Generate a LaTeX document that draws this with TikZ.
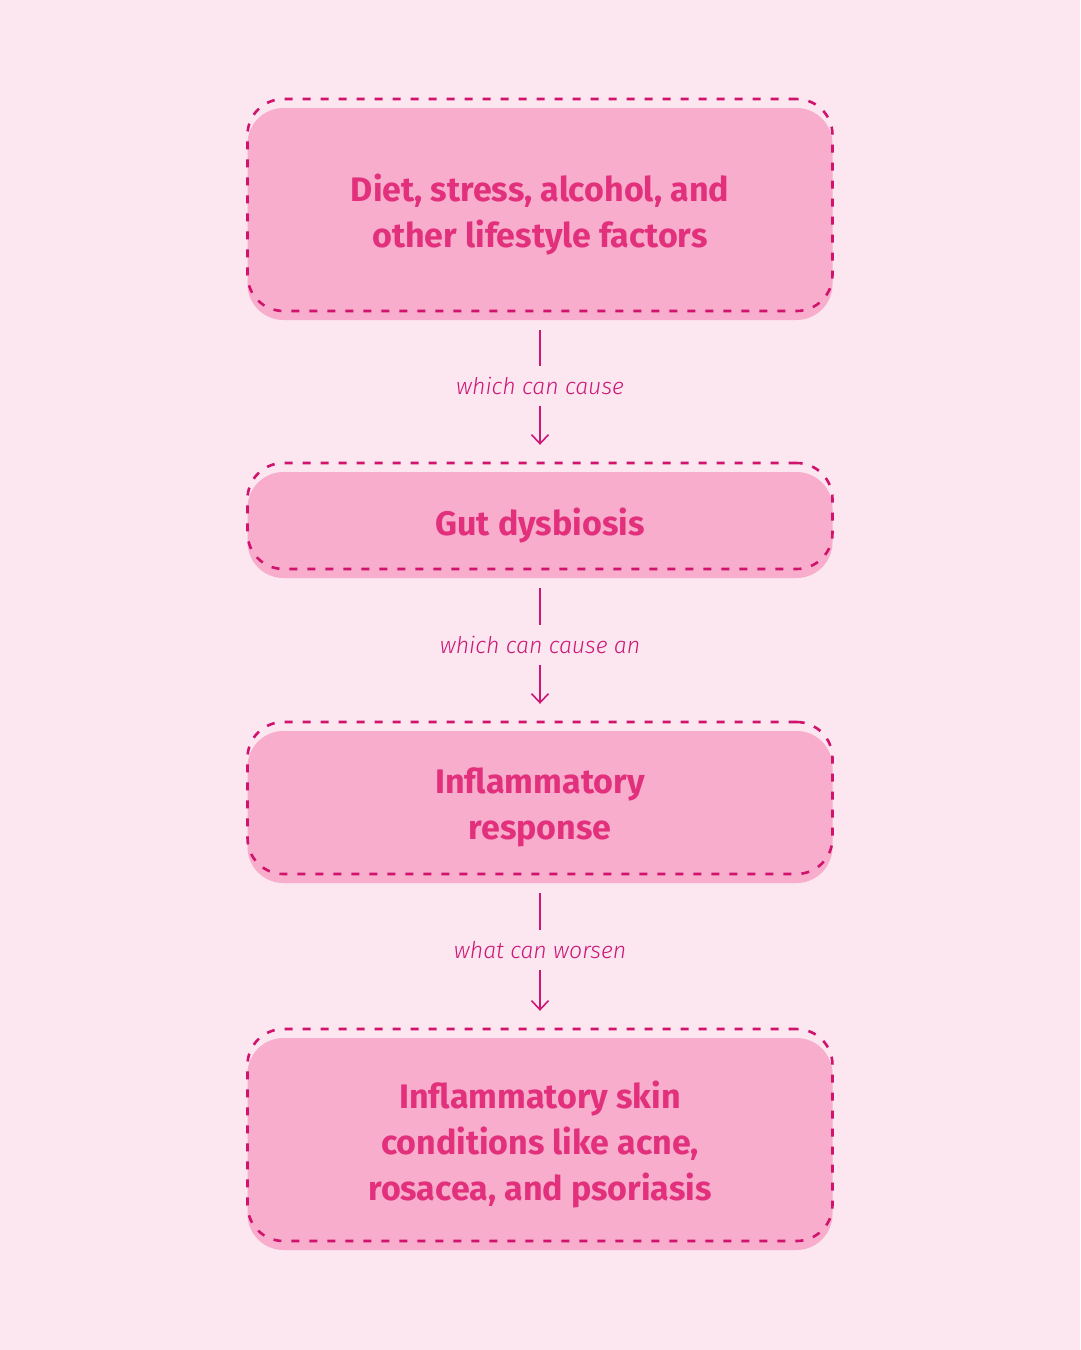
\documentclass[tikz,border=0pt]{standalone}
\usepackage{fontspec}
\setmainfont{Fira Sans}
\newfontfamily\labelfont{Fira Sans Light}
\usepackage{tikz}
\usetikzlibrary{arrows.meta, positioning}

\definecolor{bgpink}{HTML}{FCE6EF}
\definecolor{boxpink}{HTML}{F7ADCB}
\definecolor{dashpink}{HTML}{D1136E}
\definecolor{textpink}{HTML}{E2307C}
\definecolor{linkpink}{HTML}{CC1777}

\begin{document}
\begin{tikzpicture}[
  x=1pt, y=1pt,
  stagebox/.style={fill=boxpink, rounded corners=36pt, minimum width=585pt,
    inner sep=0pt, align=center, text=textpink,
    font=\fontsize{34}{46}\selectfont\bfseries,
    postaction={draw=dashpink, line width=2.6pt, dash pattern=on 8pt off 10pt,
      transform canvas={yshift=9pt}}},
  linklabel/.style={inner sep=0pt, minimum height=39pt, text=linkpink,
    font=\labelfont\fontsize{23}{26}\selectfont\itshape},
  link/.style={draw=linkpink, line width=1.6pt},
  linkarrow/.style={link, -{Straight Barb[length=9pt,width=17pt,line width=1.6pt]}}
]
\fill[bgpink] (0,0) rectangle (1080,-1350);
\useasboundingbox (0,0) rectangle (1080,-1350);
% stages (filled box; dashed outline sits 9pt higher)
\node[stagebox, minimum height=212pt] (diet) at (540,-214)
  {Diet, stress, alcohol, and\\other lifestyle factors};
\node[stagebox, minimum height=106pt] (gut) at (540,-525) {Gut dysbiosis};
\node[stagebox, minimum height=152pt] (inflam) at (540,-807)
  {Inflammatory\\response};
\node[stagebox, minimum height=212pt] (skin) at (540,-1144)
  {Inflammatory skin\\conditions like acne,\\rosacea, and psoriasis};
% connector labels
\node[linklabel] (cause) at (540,-386) {which can cause};
\node[linklabel] (causean) at (540,-645) {which can cause an};
\node[linklabel] (worsen) at (540,-950) {what can worsen};
% connectors
\foreach \from/\lbl/\to in {diet/cause/gut, gut/causean/inflam, inflam/worsen/skin}{
  \draw[link, shorten <=10pt] (\from.south) -- (\lbl.north);
  \draw[linkarrow, shorten >=27pt] (\lbl.south) -- (\to.north);
}
\end{tikzpicture}
\end{document}
